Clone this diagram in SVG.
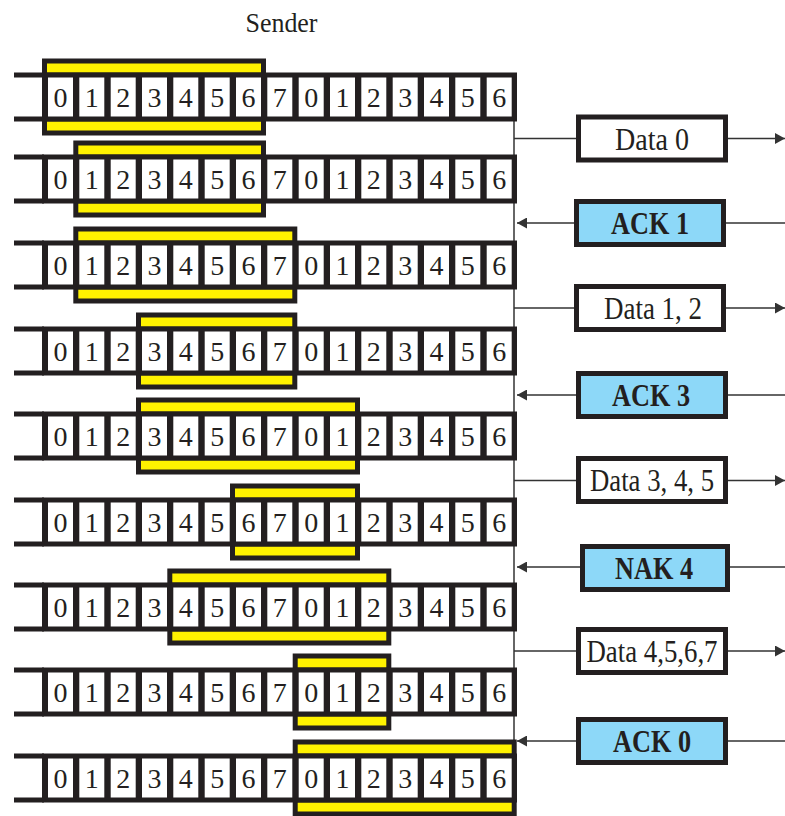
<svg xmlns="http://www.w3.org/2000/svg" width="785" height="816" viewBox="0 0 785 816">
<style>
.win{fill:#231f20}
.yel{fill:#fff200}
.d{font-family:"Liberation Serif","Times New Roman",serif;font-size:28px;fill:#231f20;text-anchor:middle}
.lbl{font-family:"Liberation Serif","Times New Roman",serif;font-size:32px;fill:#231f20;text-anchor:middle}
.b{font-weight:bold}
.box{fill:#fff;stroke:#231f20;stroke-width:5}
.blue{fill:#8dd8f8}
.ln{fill:none;stroke:#333;stroke-width:1.5}
.title{font-family:"Liberation Serif","Times New Roman",serif;font-size:28px;fill:#231f20;text-anchor:middle}
</style>
<defs>
<marker id="ah" markerUnits="userSpaceOnUse" markerWidth="10" markerHeight="11" refX="10" refY="5.5" orient="auto">
<path d="M0,0 L10,5.5 L0,11 z" fill="#333"/>
</marker>
<g id="tape">
<path d="M14,-22 H44 M14,22 H44" stroke="#231f20" stroke-width="5"/>
<rect x="42" y="-24.5" width="475" height="49" fill="#231f20"/>
<g fill="#fff">
<rect x="48" y="-19.5" width="25" height="39"/>
<rect x="79.3" y="-19.5" width="25" height="39"/>
<rect x="110.7" y="-19.5" width="25" height="39"/>
<rect x="142" y="-19.5" width="25" height="39"/>
<rect x="173.3" y="-19.5" width="25" height="39"/>
<rect x="204.7" y="-19.5" width="25" height="39"/>
<rect x="236" y="-19.5" width="25" height="39"/>
<rect x="267.3" y="-19.5" width="25" height="39"/>
<rect x="298.7" y="-19.5" width="25" height="39"/>
<rect x="330" y="-19.5" width="25" height="39"/>
<rect x="361.3" y="-19.5" width="25" height="39"/>
<rect x="392.7" y="-19.5" width="25" height="39"/>
<rect x="424" y="-19.5" width="25" height="39"/>
<rect x="455.3" y="-19.5" width="25" height="39"/>
<rect x="486.7" y="-19.5" width="25" height="39"/>
</g>
</g>
</defs>
<rect width="785" height="816" fill="#fff"/>
<text class="title" x="281.5" y="32" textLength="72" lengthAdjust="spacingAndGlyphs">Sender</text>

<g id="connectors">
<path class="ln" d="M514,121 V740"/>
<path class="ln" d="M514,138.5 H576"/><path class="ln" d="M728,138.5 H785" marker-end="url(#ah)"/>
<path class="ln" d="M785,223 H726"/><path class="ln" d="M574,223 H517" marker-end="url(#ah)"/>
<path class="ln" d="M514,308 H574"/><path class="ln" d="M726,308 H785" marker-end="url(#ah)"/>
<path class="ln" d="M785,395 H728"/><path class="ln" d="M576,395 H517" marker-end="url(#ah)"/>
<path class="ln" d="M514,480.5 H576"/><path class="ln" d="M728,480.5 H785" marker-end="url(#ah)"/>
<path class="ln" d="M785,567 H730"/><path class="ln" d="M580,567 H517" marker-end="url(#ah)"/>
<path class="ln" d="M514,651 H576"/><path class="ln" d="M728,651 H785" marker-end="url(#ah)"/>
<path class="ln" d="M785,741 H728"/><path class="ln" d="M576,741 H517" marker-end="url(#ah)"/>
</g>

<g id="row1">
<rect class="win" x="42" y="58.5" width="224" height="77"/>
<rect class="yel" x="47" y="63.5" width="214" height="9"/>
<rect class="yel" x="47" y="121.5" width="214" height="9"/>
<use href="#tape" y="97"/>
<text class="d" x="60.5" y="107">0</text><text class="d" x="91.8" y="107">1</text><text class="d" x="123.2" y="107">2</text><text class="d" x="154.5" y="107">3</text><text class="d" x="185.8" y="107">4</text><text class="d" x="217.2" y="107">5</text><text class="d" x="248.5" y="107">6</text><text class="d" x="279.8" y="107">7</text><text class="d" x="311.2" y="107">0</text><text class="d" x="342.5" y="107">1</text><text class="d" x="373.8" y="107">2</text><text class="d" x="405.2" y="107">3</text><text class="d" x="436.5" y="107">4</text><text class="d" x="467.8" y="107">5</text><text class="d" x="499.2" y="107">6</text>
</g>

<g id="row2">
<rect class="win" x="73.3" y="140.5" width="192.7" height="77"/>
<rect class="yel" x="78.3" y="145.5" width="182.7" height="9"/>
<rect class="yel" x="78.3" y="203.5" width="182.7" height="9"/>
<use href="#tape" y="179"/>
<text class="d" x="60.5" y="189">0</text><text class="d" x="91.8" y="189">1</text><text class="d" x="123.2" y="189">2</text><text class="d" x="154.5" y="189">3</text><text class="d" x="185.8" y="189">4</text><text class="d" x="217.2" y="189">5</text><text class="d" x="248.5" y="189">6</text><text class="d" x="279.8" y="189">7</text><text class="d" x="311.2" y="189">0</text><text class="d" x="342.5" y="189">1</text><text class="d" x="373.8" y="189">2</text><text class="d" x="405.2" y="189">3</text><text class="d" x="436.5" y="189">4</text><text class="d" x="467.8" y="189">5</text><text class="d" x="499.2" y="189">6</text>
</g>

<g id="row3">
<rect class="win" x="73.3" y="226.5" width="224" height="77"/>
<rect class="yel" x="78.3" y="231.5" width="214" height="9"/>
<rect class="yel" x="78.3" y="289.5" width="214" height="9"/>
<use href="#tape" y="265"/>
<text class="d" x="60.5" y="275">0</text><text class="d" x="91.8" y="275">1</text><text class="d" x="123.2" y="275">2</text><text class="d" x="154.5" y="275">3</text><text class="d" x="185.8" y="275">4</text><text class="d" x="217.2" y="275">5</text><text class="d" x="248.5" y="275">6</text><text class="d" x="279.8" y="275">7</text><text class="d" x="311.2" y="275">0</text><text class="d" x="342.5" y="275">1</text><text class="d" x="373.8" y="275">2</text><text class="d" x="405.2" y="275">3</text><text class="d" x="436.5" y="275">4</text><text class="d" x="467.8" y="275">5</text><text class="d" x="499.2" y="275">6</text>
</g>

<g id="row4">
<rect class="win" x="136" y="312.5" width="161.3" height="77"/>
<rect class="yel" x="141" y="317.5" width="151.3" height="9"/>
<rect class="yel" x="141" y="375.5" width="151.3" height="9"/>
<use href="#tape" y="351"/>
<text class="d" x="60.5" y="361">0</text><text class="d" x="91.8" y="361">1</text><text class="d" x="123.2" y="361">2</text><text class="d" x="154.5" y="361">3</text><text class="d" x="185.8" y="361">4</text><text class="d" x="217.2" y="361">5</text><text class="d" x="248.5" y="361">6</text><text class="d" x="279.8" y="361">7</text><text class="d" x="311.2" y="361">0</text><text class="d" x="342.5" y="361">1</text><text class="d" x="373.8" y="361">2</text><text class="d" x="405.2" y="361">3</text><text class="d" x="436.5" y="361">4</text><text class="d" x="467.8" y="361">5</text><text class="d" x="499.2" y="361">6</text>
</g>

<g id="row5">
<rect class="win" x="136" y="397.5" width="224" height="77"/>
<rect class="yel" x="141" y="402.5" width="214" height="9"/>
<rect class="yel" x="141" y="460.5" width="214" height="9"/>
<use href="#tape" y="436"/>
<text class="d" x="60.5" y="446">0</text><text class="d" x="91.8" y="446">1</text><text class="d" x="123.2" y="446">2</text><text class="d" x="154.5" y="446">3</text><text class="d" x="185.8" y="446">4</text><text class="d" x="217.2" y="446">5</text><text class="d" x="248.5" y="446">6</text><text class="d" x="279.8" y="446">7</text><text class="d" x="311.2" y="446">0</text><text class="d" x="342.5" y="446">1</text><text class="d" x="373.8" y="446">2</text><text class="d" x="405.2" y="446">3</text><text class="d" x="436.5" y="446">4</text><text class="d" x="467.8" y="446">5</text><text class="d" x="499.2" y="446">6</text>
</g>

<g id="row6">
<rect class="win" x="230" y="483.5" width="130" height="77"/>
<rect class="yel" x="235" y="488.5" width="120" height="9"/>
<rect class="yel" x="235" y="546.5" width="120" height="9"/>
<use href="#tape" y="522"/>
<text class="d" x="60.5" y="532">0</text><text class="d" x="91.8" y="532">1</text><text class="d" x="123.2" y="532">2</text><text class="d" x="154.5" y="532">3</text><text class="d" x="185.8" y="532">4</text><text class="d" x="217.2" y="532">5</text><text class="d" x="248.5" y="532">6</text><text class="d" x="279.8" y="532">7</text><text class="d" x="311.2" y="532">0</text><text class="d" x="342.5" y="532">1</text><text class="d" x="373.8" y="532">2</text><text class="d" x="405.2" y="532">3</text><text class="d" x="436.5" y="532">4</text><text class="d" x="467.8" y="532">5</text><text class="d" x="499.2" y="532">6</text>
</g>

<g id="row7">
<rect class="win" x="167.3" y="568.5" width="224" height="77"/>
<rect class="yel" x="172.3" y="573.5" width="214" height="9"/>
<rect class="yel" x="172.3" y="631.5" width="214" height="9"/>
<use href="#tape" y="607"/>
<text class="d" x="60.5" y="617">0</text><text class="d" x="91.8" y="617">1</text><text class="d" x="123.2" y="617">2</text><text class="d" x="154.5" y="617">3</text><text class="d" x="185.8" y="617">4</text><text class="d" x="217.2" y="617">5</text><text class="d" x="248.5" y="617">6</text><text class="d" x="279.8" y="617">7</text><text class="d" x="311.2" y="617">0</text><text class="d" x="342.5" y="617">1</text><text class="d" x="373.8" y="617">2</text><text class="d" x="405.2" y="617">3</text><text class="d" x="436.5" y="617">4</text><text class="d" x="467.8" y="617">5</text><text class="d" x="499.2" y="617">6</text>
</g>

<g id="row8">
<rect class="win" x="292.7" y="653.5" width="98.6" height="77"/>
<rect class="yel" x="297.7" y="658.5" width="88.6" height="9"/>
<rect class="yel" x="297.7" y="716.5" width="88.6" height="9"/>
<use href="#tape" y="692"/>
<text class="d" x="60.5" y="702">0</text><text class="d" x="91.8" y="702">1</text><text class="d" x="123.2" y="702">2</text><text class="d" x="154.5" y="702">3</text><text class="d" x="185.8" y="702">4</text><text class="d" x="217.2" y="702">5</text><text class="d" x="248.5" y="702">6</text><text class="d" x="279.8" y="702">7</text><text class="d" x="311.2" y="702">0</text><text class="d" x="342.5" y="702">1</text><text class="d" x="373.8" y="702">2</text><text class="d" x="405.2" y="702">3</text><text class="d" x="436.5" y="702">4</text><text class="d" x="467.8" y="702">5</text><text class="d" x="499.2" y="702">6</text>
</g>

<g id="row9">
<rect class="win" x="292.7" y="739.5" width="224" height="77"/>
<rect class="yel" x="297.7" y="744.5" width="214" height="9"/>
<rect class="yel" x="297.7" y="802.5" width="214" height="9"/>
<use href="#tape" y="778"/>
<text class="d" x="60.5" y="788">0</text><text class="d" x="91.8" y="788">1</text><text class="d" x="123.2" y="788">2</text><text class="d" x="154.5" y="788">3</text><text class="d" x="185.8" y="788">4</text><text class="d" x="217.2" y="788">5</text><text class="d" x="248.5" y="788">6</text><text class="d" x="279.8" y="788">7</text><text class="d" x="311.2" y="788">0</text><text class="d" x="342.5" y="788">1</text><text class="d" x="373.8" y="788">2</text><text class="d" x="405.2" y="788">3</text><text class="d" x="436.5" y="788">4</text><text class="d" x="467.8" y="788">5</text><text class="d" x="499.2" y="788">6</text>
</g>

<g id="data0">
<rect class="box" x="578.5" y="117" width="147" height="43"/>
<text class="lbl" x="652" y="149.5" textLength="74" lengthAdjust="spacingAndGlyphs">Data 0</text>
</g>
<g id="ack1">
<rect class="box blue" x="576.5" y="201.5" width="147" height="43"/>
<text class="lbl b" x="650" y="234" textLength="78" lengthAdjust="spacingAndGlyphs">ACK 1</text>
</g>
<g id="data12">
<rect class="box" x="576.5" y="286.5" width="147" height="43"/>
<text class="lbl" x="653" y="319" textLength="98" lengthAdjust="spacingAndGlyphs">Data 1, 2</text>
</g>
<g id="ack3">
<rect class="box blue" x="578.5" y="373.5" width="147" height="43"/>
<text class="lbl b" x="651" y="406" textLength="78" lengthAdjust="spacingAndGlyphs">ACK 3</text>
</g>
<g id="data345">
<rect class="box" x="578.5" y="458.5" width="147" height="43"/>
<text class="lbl" x="652" y="491" textLength="124" lengthAdjust="spacingAndGlyphs">Data 3, 4, 5</text>
</g>
<g id="nak4">
<rect class="box blue" x="582.5" y="546.5" width="145" height="43"/>
<text class="lbl b" x="654" y="579" textLength="78" lengthAdjust="spacingAndGlyphs">NAK 4</text>
</g>
<g id="data4567">
<rect class="box" x="578.5" y="629.5" width="147" height="43"/>
<text class="lbl" x="652" y="662" textLength="131" lengthAdjust="spacingAndGlyphs">Data 4,5,6,7</text>
</g>
<g id="ack0">
<rect class="box blue" x="578.5" y="719.5" width="147" height="43"/>
<text class="lbl b" x="652" y="752" textLength="78" lengthAdjust="spacingAndGlyphs">ACK 0</text>
</g>
</svg>
